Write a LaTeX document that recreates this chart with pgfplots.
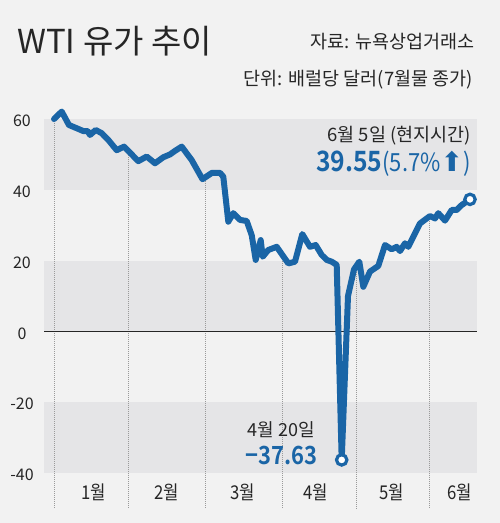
\documentclass[border=0pt]{standalone}
\usepackage{fontspec}
\usepackage{pgfplots}
\pgfplotsset{compat=1.18}
\setmainfont{Noto Sans CJK KR}
\newfontfamily\kr{Noto Sans CJK KR}
\newfontfamily\krc[FakeStretch=0.88]{Noto Sans CJK KR}
\newfontfamily\krb[FakeStretch=0.88]{Noto Sans CJK KR Bold}
\newfontfamily\sym{DejaVu Sans}
\definecolor{bg}{HTML}{F2F2F2}
\definecolor{band}{HTML}{E5E5E7}
\definecolor{wti}{HTML}{1A65A6}
\definecolor{txt}{HTML}{262626}
\definecolor{gridc}{HTML}{9A9A9A}
\begin{document}
\begin{tikzpicture}[x=1pt,y=1pt]
\fill[bg] (0,0) rectangle (500,523);
\begin{axis}[
  at={(44pt,14.6pt)}, anchor=south west, scale only axis,
  width=433pt, height=400pt,
  xmin=44, xmax=477, ymin=-50, ymax=63,
  axis line style={draw=none}, major tick length=0pt,
  ytick={-40,-20,0,20,40,60},
  yticklabels={-40,-20,0,20,40,60},
  yticklabel style={anchor=base, xshift=-22pt, yshift=-7.6pt, font=\kr\fontsize{16}{16}\selectfont, text=txt},
  xtick={94,167,243,316,392,460},
  xticklabels={1월,2월,3월,4월,5월,6월},
  xticklabel style={anchor=base, yshift=9.1pt, font=\krc\fontsize{19}{19}\selectfont, text=txt},
  clip=false,
]
\fill[band] (axis cs:44,40) rectangle (axis cs:477,60);
\fill[band] (axis cs:44,0) rectangle (axis cs:477,20);
\fill[band] (axis cs:44,-40) rectangle (axis cs:477,-20);
\addplot[gridc, line width=0.7pt, dash pattern=on 1pt off 1pt, forget plot] coordinates {(54,60) (54,-50)};
\addplot[gridc, line width=0.7pt, dash pattern=on 1pt off 1pt, forget plot] coordinates {(128,51) (128,-50)};
\addplot[gridc, line width=0.7pt, dash pattern=on 1pt off 1pt, forget plot] coordinates {(205,43) (205,-50)};
\addplot[gridc, line width=0.7pt, dash pattern=on 1pt off 1pt, forget plot] coordinates {(282,21.5) (282,-50)};
\addplot[gridc, line width=0.7pt, dash pattern=on 1pt off 1pt, forget plot] coordinates {(356,18.5) (356,-50)};
\addplot[gridc, line width=0.7pt, dash pattern=on 1pt off 1pt, forget plot] coordinates {(429,32.4) (429,-50)};
\addplot[black!85, line width=1.2pt, forget plot] coordinates {(44,0) (477,0)};
\addplot[wti, line width=6pt, line join=round, line cap=round] coordinates {
(54,60.0) (61.7,62.1) (69,58.3) (76.7,57.4) (83.3,56.6) (87.7,56.6) (90,55.5)
(95.7,56.9) (101.7,56.0) (108.3,54.1) (116.7,51.2) (124,52.2) (131.7,50.0)
(138.3,48.1) (146.7,49.4) (155,47.5) (163.3,49.2) (170,50.0) (175,51.0)
(181.7,52.2) (191.7,48.4) (202.5,43.0) (212,44.8) (220,44.8) (223.3,43.7)
(228.3,31.0) (233.3,33.4) (240,31.5) (246.7,31.2) (251.7,27.2) (255.7,20.2)
(260.7,25.8) (262.7,21.1) (268.3,23.0) (276.7,23.9) (288.3,19.2) (295,19.7)
(302.3,27.5) (310,23.9) (315.7,24.4) (321.7,21.6) (326.7,20.2) (331.7,19.7)
(336.7,18.8) (341.7,-36.3) (348,10) (354,17.5) (359.3,19.7) (363.3,12.6)
(370,16.9) (378.3,18.5) (385,24.4) (391.7,23.2) (396.7,23.9) (400,22.7)
(405,24.9) (408.3,23.9) (420,30.5) (430,32.6) (435,31.9) (438.3,33.4)
(445,31.3) (451.7,34.3) (456.7,34.3) (461.7,35.7) (470,37.3)
};
\addplot[only marks, mark=*, mark size=5.2pt, mark options={fill=white, draw=wti, line width=3.2pt}] coordinates {(341.7,-36.3) (470,37.3)};
\end{axis}
\node[anchor=base west, text=txt, font=\kr\fontsize{33}{33}\selectfont, inner sep=0] at (17,469.7) {WTI 유가 추이};
\node[anchor=base east, text=txt, font=\kr\fontsize{18.5}{18.5}\selectfont, inner sep=0] at (475,474) {자료: 뉴욕상업거래소};
\node[anchor=base east, text=txt, font=\kr\fontsize{18.5}{18.5}\selectfont, inner sep=0] at (473,437) {단위: 배럴당 달러(7월물 종가)};
\node[anchor=base east, text=txt, font=\kr\fontsize{18.5}{18.5}\selectfont, inner sep=0] at (471,381.3) {6월 5일 (현지시간)};
\node[anchor=base east, text=wti, inner sep=0] at (471,351.3) {{\krb\fontsize{28}{28}\selectfont 39.55}{\krc\fontsize{25}{25}\selectfont (5.7\%{\sym\fontsize{27}{27}\selectfont ⬆})}};
\node[anchor=base, text=txt, font=\kr\fontsize{18}{18}\selectfont, inner sep=0] at (281,86.3) {4월 20일};
\node[anchor=base, text=wti, font=\krb\fontsize{25}{25}\selectfont, inner sep=0] at (281.5,58) {−37.63};
\end{tikzpicture}
\end{document}
